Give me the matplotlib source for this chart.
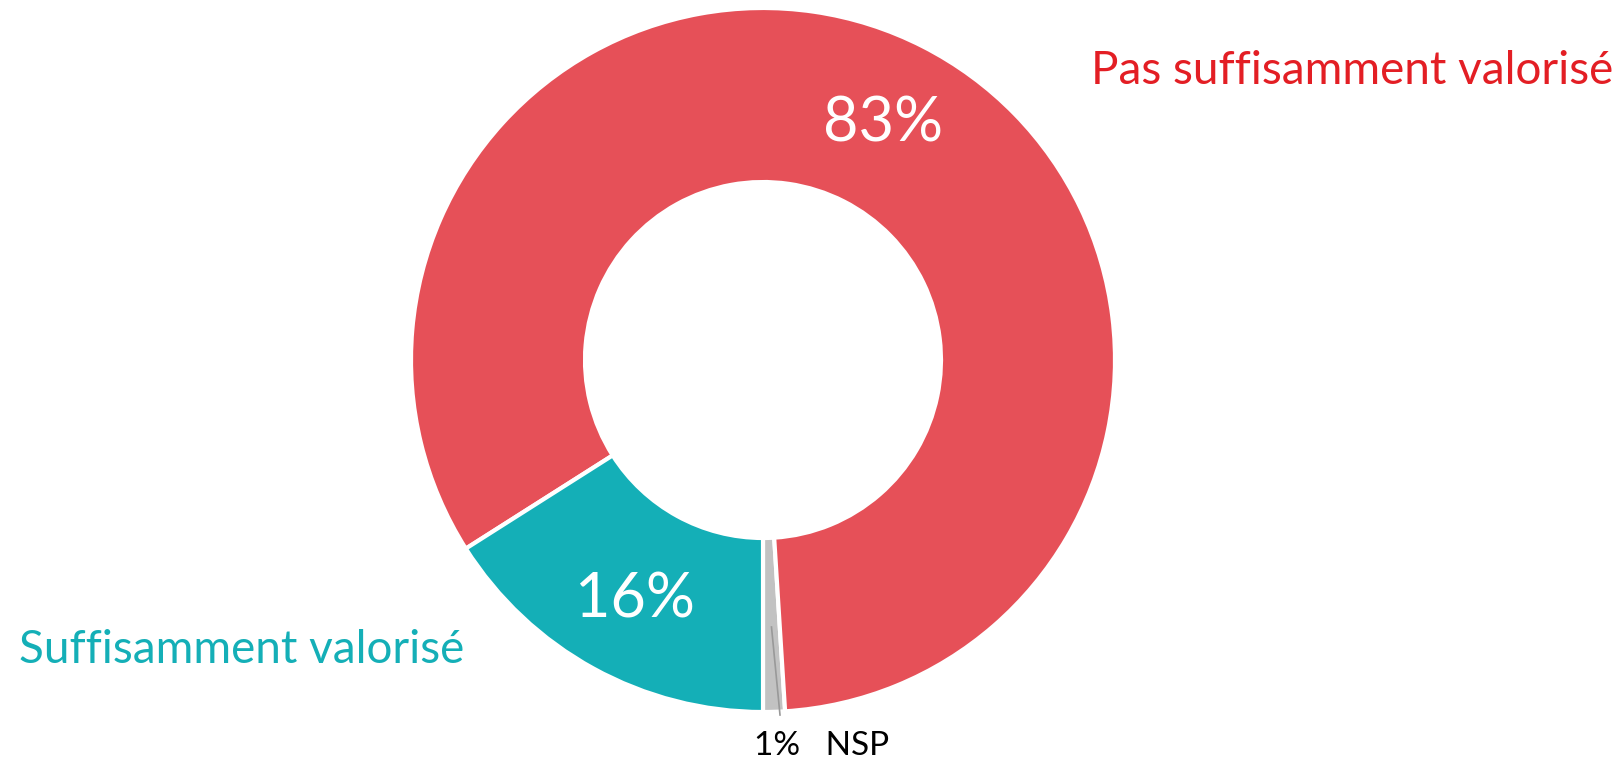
import matplotlib
matplotlib.use("Agg")
import matplotlib.pyplot as plt

# data (order: start at bottom, counterclockwise)
labels = ["NSP", "Pas suffisamment valorisé", "Suffisamment valorisé"]
values = [1, 83, 16]
wedge_colors = ["#c2c2c2", "#e65058", "#14afb7"]

W, H = 1624, 764
fig = plt.figure(figsize=(W / 100, H / 100), dpi=100)
ax = fig.add_axes([0, 0, 1, 1])

plt.rcParams["font.family"] = ["Lato", "DejaVu Sans"]

cx, cy = 763, H - 360
r_out, r_in = 352, 178
wedges, _ = ax.pie(values, colors=wedge_colors, startangle=-90, counterclock=True,
                   center=(cx, cy), radius=r_out, frame=True,
                   wedgeprops=dict(width=r_out - r_in, edgecolor="white", linewidth=3))
ax.set_xlim(0, W)
ax.set_ylim(0, H)
ax.set_aspect("equal")
ax.axis("off")

# percent labels inside wedges
ax.text(883, H - 124, f"{values[1]}%", color="white", fontsize=44,
        ha="center", va="center")
ax.text(635, H - 600, f"{values[2]}%", color="white", fontsize=44,
        ha="center", va="center")

# category labels
ax.text(1613, H - 71, labels[1], color="#e31e24", fontsize=33,
        ha="right", va="center")
ax.text(19, H - 650, labels[2], color="#14afb7", fontsize=33,
        ha="left", va="center")

# NSP leader line and label
ax.plot([771.5, 780], [H - 627, H - 715], color="#999999", lw=1.2)
ax.text(822, H - 746, f"{values[0]}%   {labels[0]}", color="black", fontsize=24,
        ha="center", va="center")

fig.savefig("out.png", dpi=100)
